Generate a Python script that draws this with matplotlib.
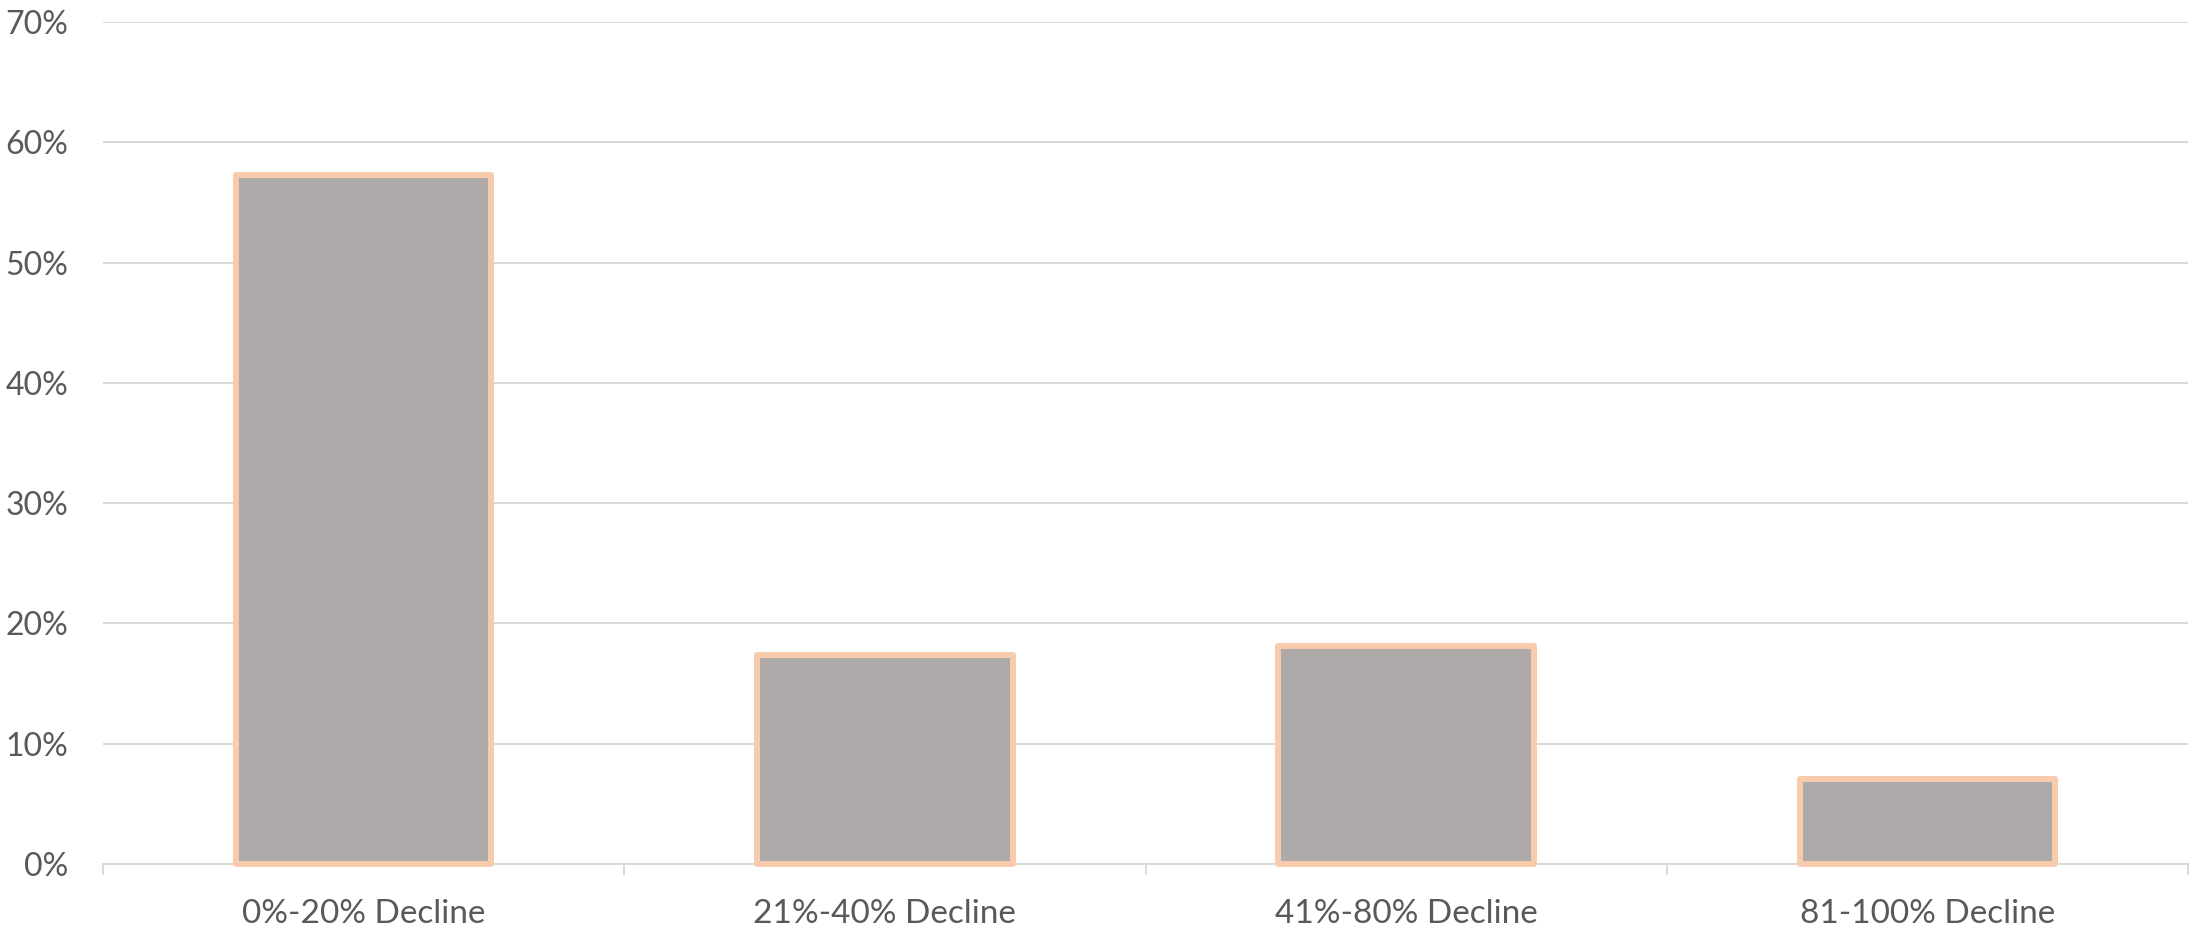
import matplotlib
matplotlib.use("Agg")
import matplotlib.pyplot as plt
import numpy as np
from matplotlib.ticker import FuncFormatter, MultipleLocator

# data
categories = ["0%-20% Decline", "21%-40% Decline", "41%-80% Decline", "81-100% Decline"]
shares = [57.3, 17.4, 18.1, 7.1]

plt.rcParams['font.family'] = ['Lato', 'DejaVu Sans']

fig = plt.figure(figsize=(21.96, 9.3), dpi=100)
ax = fig.add_axes([103/2196, 66/930, (2188-103)/2196, (864-22)/930])

x = np.arange(len(categories))
ax.bar(x, shares, width=0.49, color='#AEAAAA', edgecolor='#F8CBAD',
       linewidth=4.3, joinstyle='round', zorder=3, clip_on=False)

ax.set_xlim(-0.5, len(categories) - 0.5)
ax.set_ylim(0, 70)
ax.yaxis.set_major_locator(MultipleLocator(10))
ax.yaxis.set_major_formatter(FuncFormatter(lambda v, p: f"{v:.0f}%"))
ax.grid(axis='y', color='#D9D9D9', linewidth=1.4, zorder=0)

ax.set_xticks(x)
ax.set_xticklabels(categories)
ax.set_xticks(np.arange(-0.5, len(categories)), minor=True)
ax.tick_params(axis='x', which='major', length=0, pad=25, labelsize=24, labelcolor='#595959')
ax.tick_params(axis='x', which='minor', length=8, width=1.4, color='#D9D9D9')
ax.tick_params(axis='y', length=0, pad=25, labelsize=23, labelcolor='#595959')

for s in ['top', 'right', 'left']:
    ax.spines[s].set_visible(False)
ax.spines['bottom'].set_color('#D9D9D9')
ax.spines['bottom'].set_linewidth(1.4)

fig.savefig("out.png", dpi=100, facecolor='white')
